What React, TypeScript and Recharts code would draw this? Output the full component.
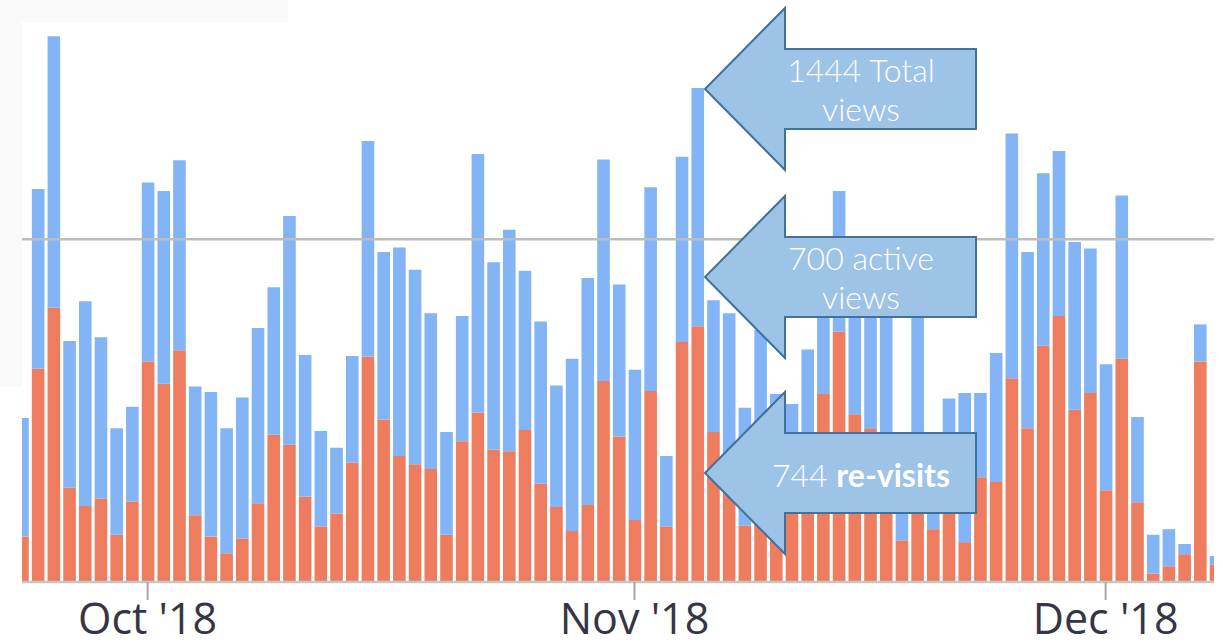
import React from 'react';
import { BarChart, Bar, XAxis, YAxis, ReferenceLine } from 'recharts';

// one bar per day, first entry is Sep 23 2018 (cut in half by the left edge)
const startLabel = '2018-09-23';

// re-visits (orange, bottom of stack)
const revisits = [
  4.9, 23.0, 29.6, 10.2, 8.2, 9.0, 5.1, 8.7, 23.8, 21.4,
  25.0, 7.2, 4.9, 3.1, 4.7, 8.5, 15.9, 14.8, 9.2, 6.0,
  7.4, 12.9, 24.3, 17.5, 13.6, 12.7, 12.2, 5.1, 15.2, 18.3,
  14.3, 14.1, 16.4, 10.6, 8.1, 5.5, 8.3, 21.7, 15.7, 6.7,
  20.6, 6.0, 25.9, 27.6, 16.2, 11.0, 6.1, 8.8, 6.7, 9.9,
  13.2, 20.3, 27.0, 18.1, 16.5, 12.1, 4.5, 9.9, 5.7, 8.8,
  4.3, 11.3, 10.8, 22.0, 16.6, 25.5, 28.7, 18.6, 20.4, 9.9,
  24.1, 8.6, 0.9, 1.7, 3.0, 23.8, 1.9,
];

// other views (blue, stacked on top)
const otherViews = [
  12.8, 19.4, 29.3, 15.8, 22.1, 17.4, 11.5, 10.2, 19.3, 20.8,
  20.5, 13.9, 15.6, 13.5, 15.2, 18.9, 15.9, 24.7, 15.3, 10.3,
  7.1, 11.5, 23.3, 18.1, 22.5, 21.0, 16.8, 11.1, 13.5, 27.9,
  20.2, 23.9, 17.2, 17.5, 13.1, 18.6, 24.5, 23.9, 16.4, 16.2,
  22.0, 7.6, 20.0, 25.7, 14.2, 18.0, 12.7, 18.4, 13.6, 9.3,
  11.9, 10.1, 15.2, 12.3, 15.0, 18.3, 5.4, 22.1, 6.4, 11.0,
  16.1, 9.1, 13.9, 26.4, 19.0, 18.6, 17.8, 18.1, 15.6, 13.6,
  17.6, 9.2, 4.2, 4.0, 1.1, 4.0, 0.9,
];

// month ticks (day index from start) and their labels
const tickDays = [8, 39, 69];
const tickLabels = ["Oct '18", "Nov '18", "Dec '18"];

const averageLine = 37;

const data = revisits.map((r, i) => ({ day: i, revisits: r, other: otherViews[i] }));

const ORANGE = '#ed7d5e';
const BLUE = '#82b4f6';

const Callout = ({ cy, lines }: { cy: number; lines: React.ReactNode[] }) => {
  const tip = 705, neck = 785, end = 976;
  const pts = [
    [tip, cy], [neck, cy - 81], [neck, cy - 40], [end, cy - 40],
    [end, cy + 40], [neck, cy + 40], [neck, cy + 81],
  ].map(p => p.join(',')).join(' ');
  const first = lines.length === 1 ? cy + 14 : cy - 7;
  return (
    <g>
      <polygon points={pts} fill="#9dc3e6" stroke="#41719c" strokeWidth={2} strokeLinejoin="miter" />
      {lines.map((l, k) => (
        <text key={k} x={861} y={first + k * 39} textAnchor="middle" fill="#fff"
          fontFamily="Lato, 'Open Sans', sans-serif" fontWeight={300} fontSize={32}>
          {l}
        </text>
      ))}
    </g>
  );
};

export default function App() {
  return (
    <div style={{ position: 'absolute', left: 0, top: 0, width: 1223, height: 644, background: '#fff', overflow: 'hidden' }}>
      <div style={{ position: 'absolute', left: 0, top: 0, width: 288, height: 22, background: '#f9f9f9' }} />
      <div style={{ position: 'absolute', left: 0, top: 0, width: 22, height: 387, background: '#f9f9f9' }} />
      <div style={{ position: 'absolute', left: 0, top: 0 }}>
        <BarChart width={1223} height={644} data={data} barSize={12.6}
          margin={{ top: 26, right: 9, bottom: 0, left: 22 }}>
          <XAxis
            dataKey="day"
            type="number"
            domain={[0, 75.9]}
            allowDataOverflow
            ticks={tickDays}
            interval={0}
            tickFormatter={(v: number) => tickLabels[tickDays.indexOf(v)] ?? startLabel}
            height={62}
            axisLine={{ stroke: '#c6c6c6', strokeWidth: 2.5 }}
            tickLine={{ stroke: '#a8a8a8', strokeWidth: 2 }}
            tickSize={18}
            tickMargin={3}
            tick={{ fill: '#353545', fontSize: 43, fontFamily: "'Open Sans', sans-serif", fontWeight: 500 }}
          />
          <YAxis hide domain={[0, 60]} />
          <ReferenceLine y={averageLine} stroke="#bdbdbd" strokeWidth={2.5} />
          <Bar dataKey="revisits" stackId="a" fill={ORANGE} isAnimationActive={false} />
          <Bar dataKey="other" stackId="a" fill={BLUE} isAnimationActive={false} />
        </BarChart>
      </div>
      <svg width={1223} height={644} style={{ position: 'absolute', left: 0, top: 0, pointerEvents: 'none' }}>
        <Callout cy={89} lines={['1444 Total', 'views']} />
        <Callout cy={277} lines={['700 active', 'views']} />
        <Callout cy={473} lines={[<>744 <tspan fontWeight={700}>re-visits</tspan></>]} />
      </svg>
    </div>
  );
}
